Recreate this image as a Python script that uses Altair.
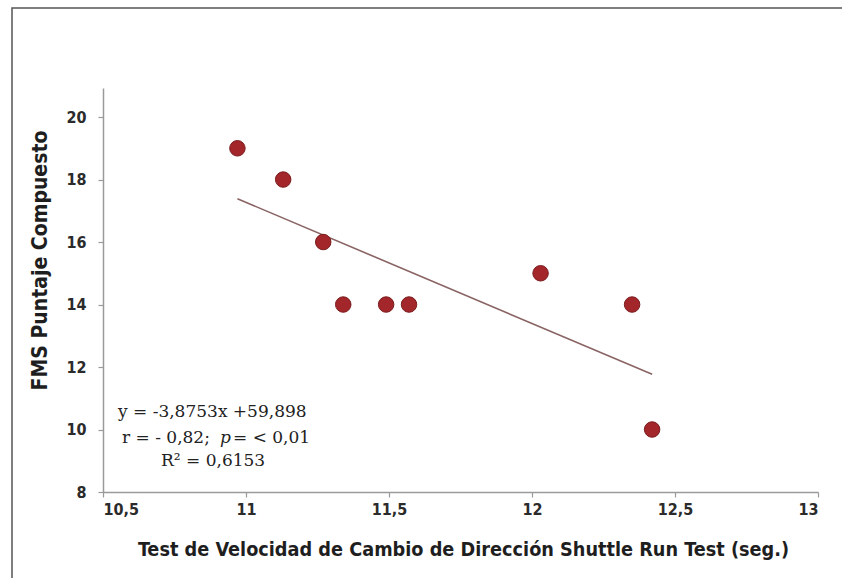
import altair as alt
import pandas as pd

# ---- data ----
shuttle_x = [10.97, 11.13, 11.27, 11.34, 11.49, 11.57, 12.03, 12.35, 12.42]
fms_y = [19, 18, 16, 14, 14, 14, 15, 14, 10]

fit_slope = [-3.8753]
fit_intercept = [59.898]

x_ticks = [10.5, 11, 11.5, 12, 12.5, 13]
y_ticks = [8, 10, 12, 14, 16, 18, 20]

x_title = "Test de Velocidad de Cambio de Dirección Shuttle Run Test (seg.)"
y_title = "FMS Puntaje Compuesto"

eq_line1 = ["y = -3,8753x +59,898"]
eq_line2a = ["r = - 0,82;"]
eq_line2p = ["p"]
eq_line2b = ["= < 0,01"]
eq_line3 = ["R² = 0,6153"]

pts = pd.DataFrame({"x": shuttle_x, "y": fms_y})
tx = [min(shuttle_x), max(shuttle_x)]
trend = pd.DataFrame({"x": tx, "y": [fit_slope[0] * v + fit_intercept[0] for v in tx]})

W, H = 715, 404
LAB_FONT = "DejaVu Sans Condensed, Liberation Sans, sans-serif"
SERIF = "DejaVu Serif, serif"

xs = alt.Scale(domain=[10.5, 13], nice=False, zero=False)
ys = alt.Scale(domain=[8, 20.93], nice=False, zero=False)

x_axis = alt.Axis(
    values=x_ticks, grid=False, title=x_title,
    labelExpr="replace(datum.value + '', '.', ',')",
    labelFont=LAB_FONT, labelFontSize=16, labelFontWeight="bold", labelColor="#2b2b2b",
    labelPadding=4, tickSize=5, tickColor="#9a9a9a", domainColor="#9a9a9a",
    domainWidth=1.5, tickWidth=1.2,
    titleFont=LAB_FONT, titleFontSize=19.7, titleFontWeight="bold", titleColor="#1e1e1e",
    titleX=360, titleY=57, titleBaseline="middle", titleAlign="center",
)
y_axis = alt.Axis(
    values=y_ticks, grid=False, title=y_title,
    labelFont=LAB_FONT, labelFontSize=16, labelFontWeight="bold", labelColor="#2b2b2b",
    labelPadding=12, tickSize=5, tickColor="#9a9a9a", domainColor="#9a9a9a",
    domainWidth=1.5, tickWidth=1.2,
    titleFont=LAB_FONT, titleFontSize=21, titleFontWeight="bold", titleColor="#1e1e1e",
    titleX=-63, titleY=172, titleAngle=270, titleBaseline="middle", titleAlign="center",
)

frame = alt.Chart(pd.DataFrame({"a": [0]})).mark_rect(
    filled=False, stroke="#555555", strokeWidth=1.5
).encode(
    x=alt.value(-91), x2=alt.value(800), y=alt.value(-80), y2=alt.value(520)
)

line = alt.Chart(trend).mark_line(color="#8a6464", strokeWidth=1.6).encode(
    x=alt.X("x:Q", scale=xs, axis=x_axis),
    y=alt.Y("y:Q", scale=ys, axis=y_axis),
)

points = alt.Chart(pts).mark_circle(
    size=240, color="#a3262a", opacity=1, stroke="#7a1c1e", strokeWidth=1
).encode(
    x=alt.X("x:Q", scale=xs),
    y=alt.Y("y:Q", scale=ys),
)

def txt(s, xp, yp, style="normal"):
    return alt.Chart(pd.DataFrame({"t": s})).mark_text(
        font=SERIF, fontSize=17, color="#222222", align="left",
        baseline="alphabetic", fontStyle=style
    ).encode(text="t:N", x=alt.value(xp), y=alt.value(yp))

ann = (
    txt(eq_line1, 15, 329)
    + txt(eq_line2a, 19, 355)
    + txt(eq_line2p, 117, 355, "italic")
    + txt(eq_line2b, 130, 355)
    + txt(eq_line3, 58, 378)
)

chart = alt.layer(frame, line, points, ann).properties(
    width=W, height=H,
    autosize=alt.AutoSizeParams(type="none"),
    padding={"left": 103, "top": 88, "right": 24, "bottom": 86},
    background="white",
).configure_view(stroke=None)

chart.save("out.html", embed_options={"renderer": "svg", "actions": False})
